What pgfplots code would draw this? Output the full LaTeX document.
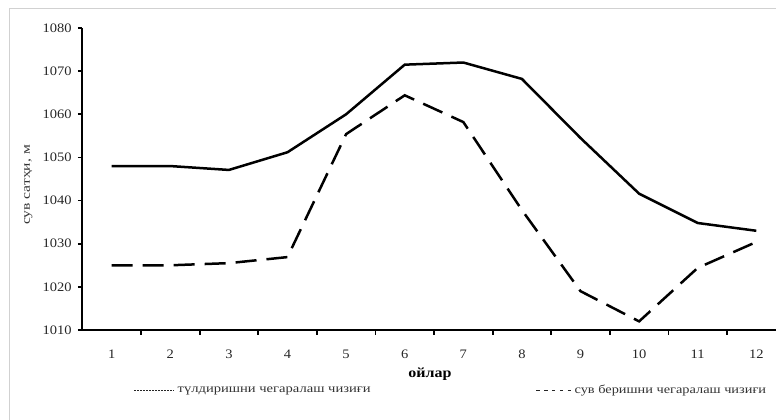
\documentclass[border=0pt]{standalone}
\usepackage{pgfplots}
\pgfplotsset{compat=1.18}
\usepackage{fontspec}
\setmainfont{Liberation Serif}

\begin{document}
\begin{tikzpicture}
% picture frame = 776 x 420 px, axis origin at (82.4px, 330px)
\useasboundingbox (-82.4bp,-90bp) rectangle (693.6bp,330bp);
\draw[black!18, line width=0.8bp] (-73.4bp,-95bp) -- (-73.4bp,322bp) -- (700bp,322bp);
\begin{axis}[
    scale only axis,
    width=693.6bp, height=302bp,
    at={(0,0)}, anchor=south west,
    xmin=0.5, xmax=12.336,
    ymin=1010, ymax=1080,
    axis lines*=left,
    axis line style={line width=2bp, -},
    tick align=outside,
    xtick={1,...,12},
    minor xtick={1.5,2.5,...,11.5},
    ytick={1010,1020,...,1080},
    major tick length=4.5bp,
    minor tick length=4.5bp,
    every major x tick/.append style={draw=none},
    every tick/.append style={line width=1.8bp, black},
    every minor tick/.append style={line width=1.8bp, black},
    /pgf/number format/assume math mode=true,
    /pgf/number format/set thousands separator={},
    tick label style={font=\fontsize{13}{15}\selectfont, xscale=1.12, text=black!85},
    yticklabel style={xshift=-2bp},
    xticklabel style={yshift=-12bp},
    ylabel={\scalebox{1.3}[1]{сув сатҳи, м}},
    ylabel style={at={(axis description cs:-0.078,0.48)}, anchor=center, rotate=0,
        font=\fontsize{12}{14}\selectfont, text=black!80},
    xlabel={\scalebox{1.15}[1]{\textbf{ойлар}}},
    xlabel style={at={(axis description cs:0.501,-0.145)}, anchor=center,
        font=\fontsize{14}{16}\selectfont},
    legend style={at={(axis description cs:0.530,-0.199)}, anchor=center,
        draw=none, fill=none, legend columns=2,
        font=\fontsize{12}{14}\selectfont, text=black!80,
        nodes={inner sep=0pt},
        /tikz/column 1/.style={column sep=3bp},
        /tikz/column 2/.style={column sep=165bp},
        /tikz/column 3/.style={column sep=3bp}},
    legend cell align=left,
]
\addplot[black, line width=2.5bp, forget plot] coordinates {
    (1,1048) (2,1048) (3,1047.1) (4,1051.2) (5,1060) (6,1071.5)
    (7,1072) (8,1068.2) (9,1054.5) (10,1041.6) (11,1034.8) (12,1033)};
\addplot[black, line width=2.5bp, dash pattern=on 21bp off 10bp, forget plot] coordinates {
    (1,1025) (2,1025) (3,1025.5) (4,1026.9) (5,1055.4) (6,1064.4)
    (7,1058.2) (8,1037.8) (9,1019) (10,1012) (11,1024.4) (12,1030.4)};
\addlegendimage{legend image code/.code={
    \draw[black!85, line width=0.7bp, dash pattern=on 2.2bp off 0.8bp] (0bp,0bp) -- (40bp,0bp);}}
\addlegendentry{\scalebox{1.22}[1]{түлдиришни чегаралаш чизиғи}}
\addlegendimage{legend image code/.code={
    \draw[black!85, line width=0.9bp, dash pattern=on 3.5bp off 4.4bp] (0bp,0bp) -- (35bp,0bp);}}
\addlegendentry{\scalebox{1.2}[1]{сув беришни чегаралаш чизиғи}}
\end{axis}
\end{tikzpicture}
\end{document}
